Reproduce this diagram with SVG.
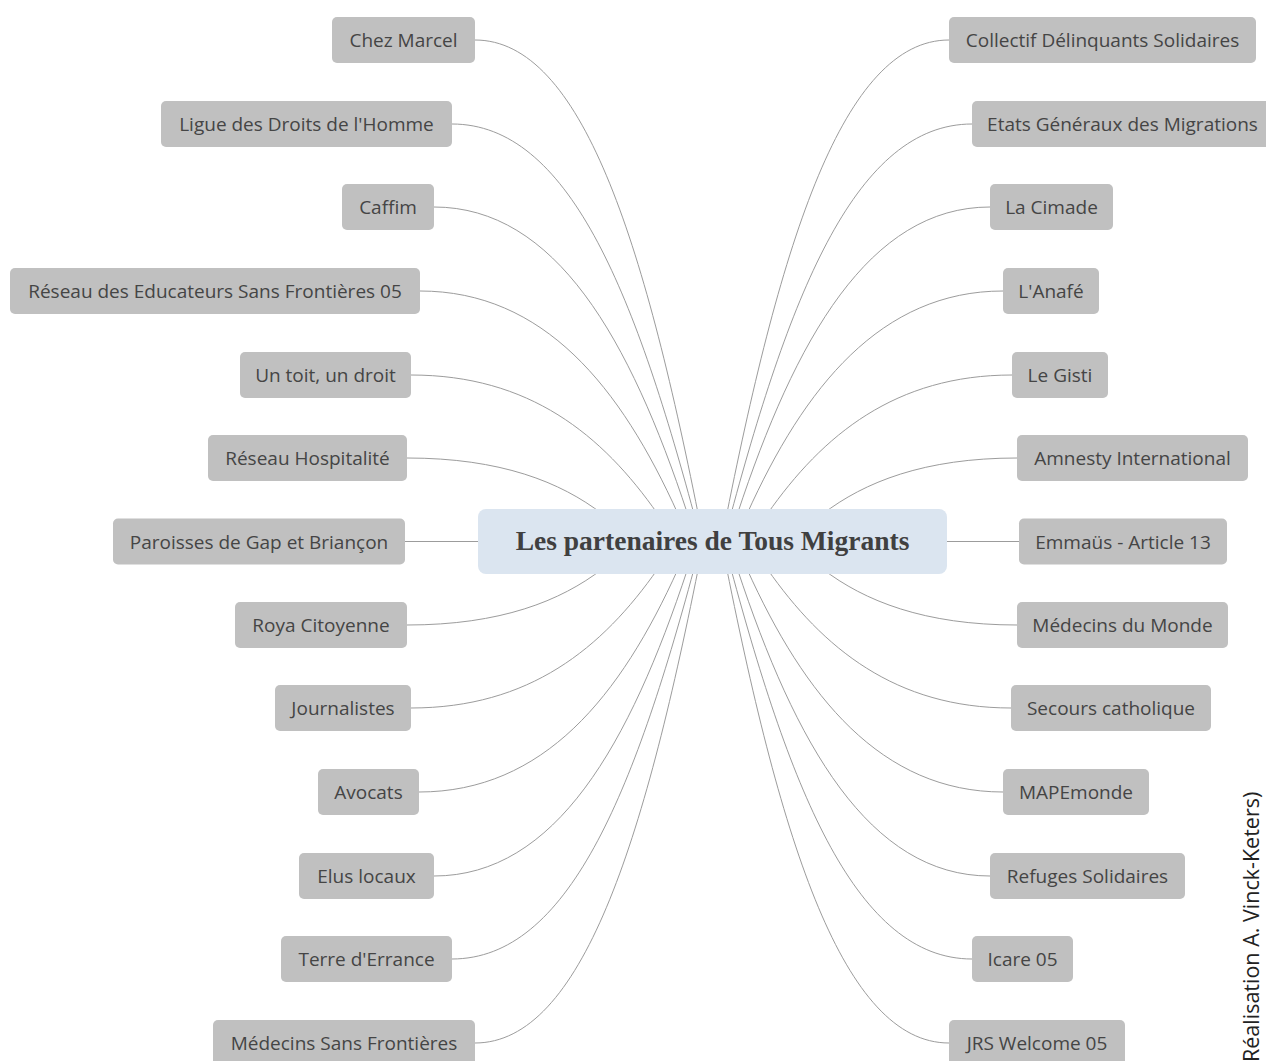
<svg xmlns="http://www.w3.org/2000/svg" width="1266" height="1061" viewBox="0 0 1266 1061">
<style>
.bg{fill:#ffffff}
.n rect{fill:#c0c0c0;rx:5px;ry:5px}
.n text{font-family:"Open Sans","Liberation Sans",sans-serif;font-size:19px;fill:#454545;text-anchor:middle}
.c path{fill:none;stroke:#9c9c9c;stroke-width:1}
.root rect{fill:#dbe5f0}
.root text{font-family:"Liberation Serif","Times New Roman",serif;font-size:27.5px;font-weight:bold;fill:#404040;text-anchor:middle}
.credit{font-family:"Open Sans","Liberation Sans",sans-serif;font-size:21.5px;fill:#222222}
</style>
<rect class="bg" x="0" y="0" width="1266" height="1061"/>
<g id="connectors" class="c">
<path d="M 475 40 C 582.1 40, 644.2 244, 698.2 514"/>
<path d="M 452 124 C 568.2 124, 634 291.7, 694 514"/>
<path d="M 434 207 C 555.7 207, 629.8 339, 687.6 514"/>
<path d="M 420 291 C 543.8 291, 620.8 387, 678 514"/>
<path d="M 411 375 C 529.4 375, 602.3 434.8, 657.7 514"/>
<path d="M 407 458 C 500.7 458, 560.8 482.1, 602.3 514"/>
<path d="M 405 541.5 H 482"/>
<path d="M 407 625 C 500.7 625, 560.8 600.9, 602.3 569"/>
<path d="M 411 708 C 529.4 708, 602.3 648.2, 657.7 569"/>
<path d="M 419 792 C 543.8 792, 620.8 696, 678 569"/>
<path d="M 434 876 C 555.7 876, 629.8 744, 687.6 569"/>
<path d="M 452 959 C 568.2 959, 634 791.3, 694 569"/>
<path d="M 475 1043 C 582.1 1043, 644.2 839, 698.2 569"/>
<path d="M 949 40 C 842.9 40, 780.8 244, 726.8 514"/>
<path d="M 972 124 C 856.8 124, 791 291.7, 731 514"/>
<path d="M 990 207 C 869.3 207, 795.2 339, 737.4 514"/>
<path d="M 1003 291 C 881.2 291, 804.2 387, 747 514"/>
<path d="M 1012 375 C 895.6 375, 822.7 434.8, 767.3 514"/>
<path d="M 1017 458 C 924.3 458, 864.2 482.1, 822.7 514"/>
<path d="M 943 541.5 H 1019"/>
<path d="M 1017 625 C 924.3 625, 864.2 600.9, 822.7 569"/>
<path d="M 1011 708 C 895.6 708, 822.7 648.2, 767.3 569"/>
<path d="M 1003 792 C 881.2 792, 804.2 696, 747 569"/>
<path d="M 990 876 C 869.3 876, 795.2 744, 737.4 569"/>
<path d="M 972 959 C 856.8 959, 791 791.3, 731 569"/>
<path d="M 949 1043 C 842.9 1043, 780.8 839, 726.8 569"/>
</g>
<g id="root" class="root">
<rect x="478" y="509" width="469" height="65" rx="8" ry="8"/>
<text x="712.5" y="550">Les partenaires de Tous Migrants</text>
</g>
<g id="n-chez-marcel" class="n"><rect x="332" y="17" width="143" height="46"/><text x="403.5" y="47">Chez Marcel</text></g>
<g id="n-ligue" class="n"><rect x="161" y="101" width="291" height="46"/><text x="306.5" y="131">Ligue des Droits de l'Homme</text></g>
<g id="n-caffim" class="n"><rect x="342" y="184" width="92" height="46"/><text x="388" y="214">Caffim</text></g>
<g id="n-resf" class="n"><rect x="10" y="268" width="410" height="46"/><text x="215" y="298">Réseau des Educateurs Sans Frontières 05</text></g>
<g id="n-untoit" class="n"><rect x="240" y="352" width="171" height="46"/><text x="325.5" y="382">Un toit, un droit</text></g>
<g id="n-hospitalite" class="n"><rect x="208" y="435" width="199" height="46"/><text x="307.5" y="465">Réseau Hospitalité</text></g>
<g id="n-paroisses" class="n"><rect x="113" y="518.5" width="292" height="46"/><text x="259" y="548.5">Paroisses de Gap et Briançon</text></g>
<g id="n-roya" class="n"><rect x="235" y="602" width="172" height="46"/><text x="321" y="632">Roya Citoyenne</text></g>
<g id="n-journalistes" class="n"><rect x="275" y="685" width="136" height="46"/><text x="343" y="715">Journalistes</text></g>
<g id="n-avocats" class="n"><rect x="318" y="769" width="101" height="46"/><text x="368.5" y="799">Avocats</text></g>
<g id="n-elus" class="n"><rect x="299" y="853" width="135" height="46"/><text x="366.5" y="883">Elus locaux</text></g>
<g id="n-terre" class="n"><rect x="281" y="936" width="171" height="46"/><text x="366.5" y="966">Terre d'Errance</text></g>
<g id="n-msf" class="n"><rect x="213" y="1020" width="262" height="46"/><text x="344" y="1050">Médecins Sans Frontières</text></g>
<g id="n-collectif" class="n"><rect x="949" y="17" width="307" height="46"/><text x="1102.5" y="47">Collectif Délinquants Solidaires</text></g>
<g id="n-etats" class="n"><rect x="972" y="101" width="301" height="46"/><text x="1122.5" y="131">Etats Généraux des Migrations</text></g>
<g id="n-cimade" class="n"><rect x="990" y="184" width="123" height="46"/><text x="1051.5" y="214">La Cimade</text></g>
<g id="n-anafe" class="n"><rect x="1003" y="268" width="96" height="46"/><text x="1051" y="298">L'Anafé</text></g>
<g id="n-gisti" class="n"><rect x="1012" y="352" width="96" height="46"/><text x="1060" y="382">Le Gisti</text></g>
<g id="n-amnesty" class="n"><rect x="1017" y="435" width="231" height="46"/><text x="1132.5" y="465">Amnesty International</text></g>
<g id="n-emmaus" class="n"><rect x="1019" y="518.5" width="208" height="46"/><text x="1123" y="548.5">Emmaüs - Article 13</text></g>
<g id="n-mdm" class="n"><rect x="1017" y="602" width="211" height="46"/><text x="1122.5" y="632">Médecins du Monde</text></g>
<g id="n-secours" class="n"><rect x="1011" y="685" width="200" height="46"/><text x="1111" y="715">Secours catholique</text></g>
<g id="n-mapemonde" class="n"><rect x="1003" y="769" width="146" height="46"/><text x="1076" y="799">MAPEmonde</text></g>
<g id="n-refuges" class="n"><rect x="990" y="853" width="195" height="46"/><text x="1087.5" y="883">Refuges Solidaires</text></g>
<g id="n-icare" class="n"><rect x="972" y="936" width="101" height="46"/><text x="1022.5" y="966">Icare 05</text></g>
<g id="n-jrs" class="n"><rect x="949" y="1020" width="176" height="46"/><text x="1037" y="1050">JRS Welcome 05</text></g>
<text class="credit" transform="translate(1259,1062) rotate(-90)">Réalisation A. Vinck-Keters)</text>
</svg>
